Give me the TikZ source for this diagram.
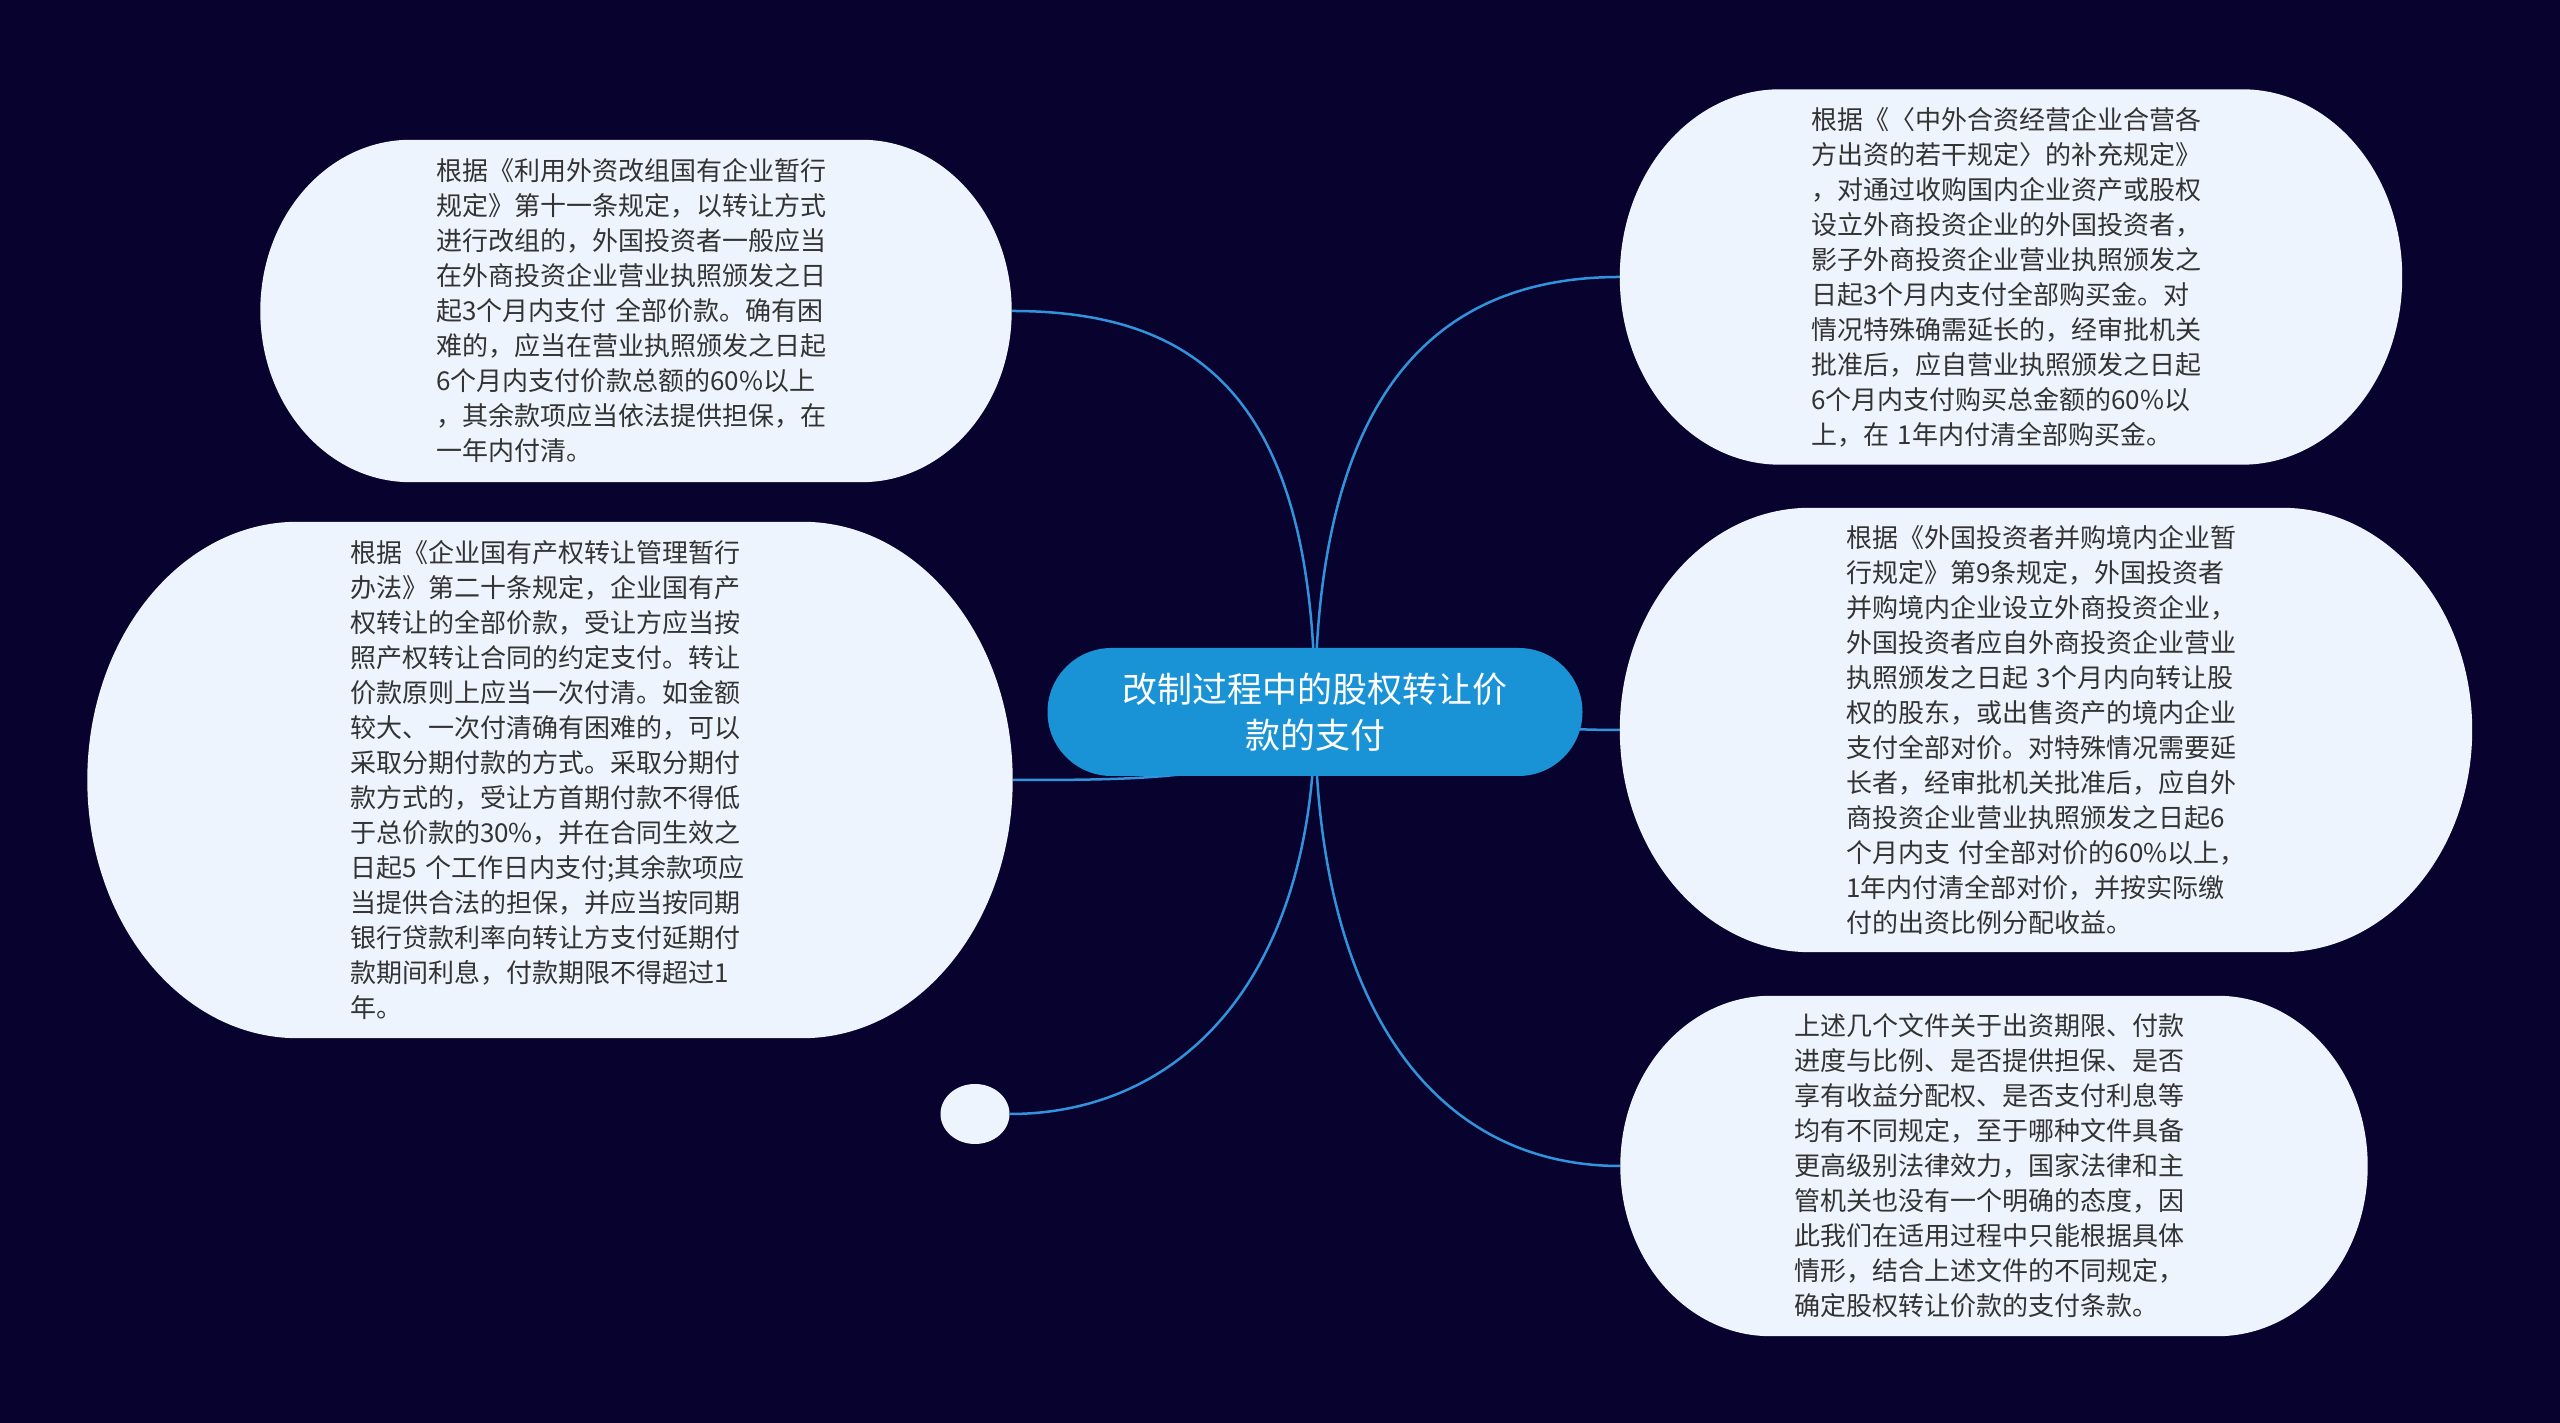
\documentclass[tikz,border=0pt]{standalone}
\usepackage{fontspec}
\setmainfont{Noto Sans CJK SC}
\usetikzlibrary{calc,backgrounds,shapes.geometric}

\definecolor{bgnavy}{HTML}{08032E}
\definecolor{rootblue}{HTML}{1A93D6}
\definecolor{linkblue}{HTML}{3193DB}
\definecolor{bubblefill}{HTML}{EEF4FD}
\definecolor{bodytext}{HTML}{333333}

% bubble with elliptic corners: node, x radius, y radius
\newcommand{\bubbleshape}[3]{%
  \fill[bubblefill] let \p1=(#1.south west), \p2=(#1.north east) in
    (\x1+#2,\y1) -- (\x2-#2,\y1) arc[start angle=-90,end angle=0,x radius=#2,y radius=#3]
    -- (\x2,\y2-#3) arc[start angle=0,end angle=90,x radius=#2,y radius=#3]
    -- (\x1+#2,\y2) arc[start angle=90,end angle=180,x radius=#2,y radius=#3]
    -- (\x1,\y1+#3) arc[start angle=180,end angle=270,x radius=#2,y radius=#3] -- cycle;}

\tikzset{
  note/.style={text width=400pt, align=left, text=bodytext, inner sep=0pt,
    font=\fontsize{26}{35}\selectfont},
  root/.style={fill=rootblue, rounded corners=64pt, text=white, align=center,
    minimum width=535pt, minimum height=128pt, font=\fontsize{35}{46}\selectfont},
  link/.style={draw=linkblue, line width=2.5pt},
}

\begin{document}
\begin{tikzpicture}[x=1pt,y=1pt]
\useasboundingbox (0,0) rectangle (2560,1423);

\node (root) at (1315,711) [root] {改制过程中的股权转让价\\款的支付};

\node (foreign) at (636,1112) [note, minimum width=751pt, minimum height=342pt] {%
根据《利用外资改组国有企业暂行\\
规定》第十一条规定，以转让方式\\
进行改组的，外国投资者一般应当\\
在外商投资企业营业执照颁发之日\\
起3个月内支付 全部价款。确有困\\
难的，应当在营业执照颁发之日起\\
6个月内支付价款总额的60\%以上\\
，其余款项应当依法提供担保，在\\
一年内付清。};

\node (stateown) at (550,643) [note, minimum width=925pt, minimum height=516pt] {%
根据《企业国有产权转让管理暂行\\
办法》第二十条规定，企业国有产\\
权转让的全部价款，受让方应当按\\
照产权转让合同的约定支付。转让\\
价款原则上应当一次付清。如金额\\
较大、一次付清确有困难的，可以\\
采取分期付款的方式。采取分期付\\
款方式的，受让方首期付款不得低\\
于总价款的30\%，并在合同生效之\\
日起5 个工作日内支付;其余款项应\\
当提供合法的担保，并应当按同期\\
银行贷款利率向转让方支付延期付\\
款期间利息，付款期限不得超过1\\
年。};

\node (jointvent) at (2011,1146) [note, minimum width=782pt, minimum height=375pt] {%
根据《〈中外合资经营企业合营各\\
方出资的若干规定〉的补充规定》\\
，对通过收购国内企业资产或股权\\
设立外商投资企业的外国投资者，\\
影子外商投资企业营业执照颁发之\\
日起3个月内支付全部购买金。对\\
情况特殊确需延长的，经审批机关\\
批准后，应自营业执照颁发之日起\\
6个月内支付购买总金额的60\%以\\
上，在 1年内付清全部购买金。};

\node (merger) at (2046,693) [note, minimum width=852pt, minimum height=444pt] {%
根据《外国投资者并购境内企业暂\\
行规定》第9条规定，外国投资者\\
并购境内企业设立外商投资企业，\\
外国投资者应自外商投资企业营业\\
执照颁发之日起 3个月内向转让股\\
权的股东，或出售资产的境内企业\\
支付全部对价。对特殊情况需要延\\
长者，经审批机关批准后，应自外\\
商投资企业营业执照颁发之日起6\\
个月内支 付全部对价的60\%以上，\\
1年内付清全部对价，并按实际缴\\
付的出资比例分配收益。};

\node (summary) at (1994,257) [note, minimum width=747pt, minimum height=340pt] {%
上述几个文件关于出资期限、付款\\
进度与比例、是否提供担保、是否\\
享有收益分配权、是否支付利息等\\
均有不同规定，至于哪种文件具备\\
更高级别法律效力，国家法律和主\\
管机关也没有一个明确的态度，因\\
此我们在适用过程中只能根据具体\\
情形，结合上述文件的不同规定，\\
确定股权转让价款的支付条款。};

\node (blank) at (975,309) [ellipse, fill=bubblefill, inner sep=0pt,
  minimum width=69pt, minimum height=60pt] {};

\begin{scope}[on background layer]
  \fill[bgnavy] (0,0) rectangle (2560,1423);
  \draw[link] (root.center) .. controls (1315,1023) and (1200,1112) .. (foreign.east);
  \draw[link] (root.center) .. controls (1315,1023) and (1430,1146) .. (jointvent.west);
  \draw[link] (root.center) .. controls (1450,711) and (1500,693) .. (merger.west);
  \draw[link] (root.center) .. controls (1315,423) and (1430,257) .. (summary.west);
  \draw[link] (root.center) .. controls (1315,443) and (1180,309) .. (blank.east);
  \draw[link] (root.center) .. controls (1280,643) and (1150,643) .. (stateown.east);
  \bubbleshape{foreign}{150pt}{171pt}
  \bubbleshape{stateown}{210pt}{258pt}
  \bubbleshape{jointvent}{160pt}{187pt}
  \bubbleshape{merger}{190pt}{222pt}
  \bubbleshape{summary}{150pt}{170pt}
\end{scope}
\end{tikzpicture}
\end{document}
